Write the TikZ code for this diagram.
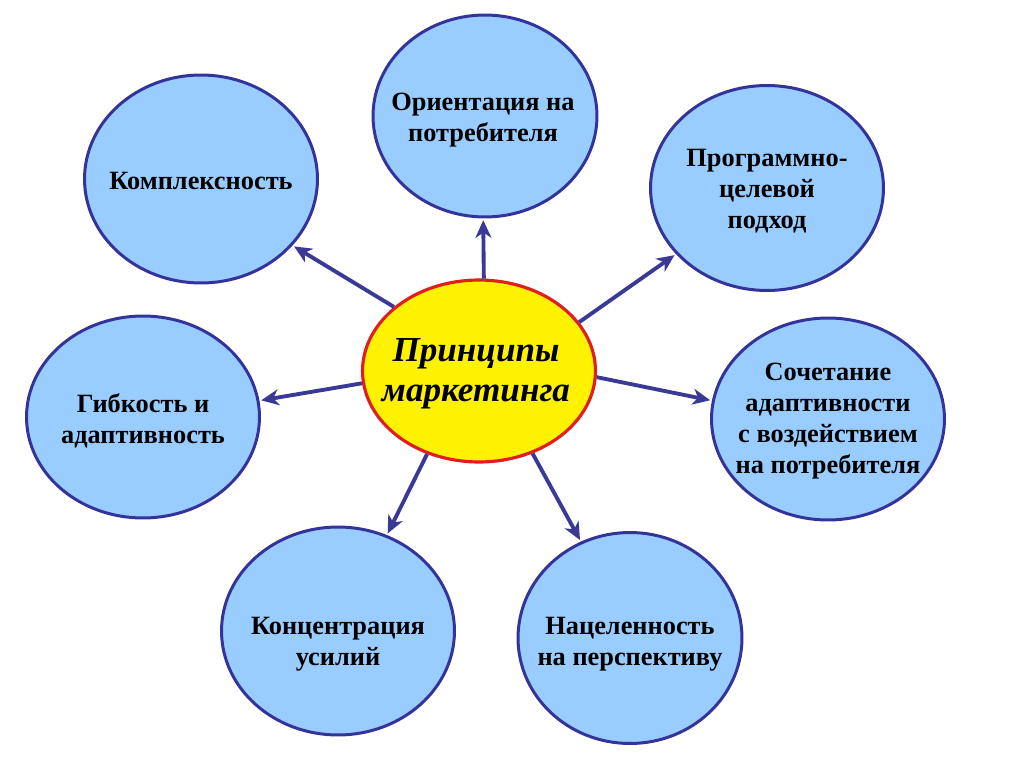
\documentclass[tikz,border=0pt]{standalone}
\usepackage{fontspec}
\setmainfont{Liberation Serif}
\usetikzlibrary{arrows.meta,shapes.geometric}
\definecolor{bfill}{RGB}{153,204,255}
\definecolor{bdraw}{RGB}{51,51,153}
\definecolor{arr}{RGB}{58,58,150}
\definecolor{hubred}{RGB}{225,30,30}
\begin{document}
\begin{tikzpicture}[x=0.02cm,y=-0.02cm,
  bub/.style={ellipse,draw=bdraw,fill=bfill,line width=1.7pt,inner sep=0pt},
  txt/.style={align=center,inner sep=0pt,font=\fontsize{15}{17.5}\selectfont\bfseries},
  hub/.style={ellipse,draw=hubred,fill=yellow,line width=1.8pt,inner sep=0pt,
    minimum width=4.66cm,minimum height=3.64cm},
  hubtxt/.style={align=center,inner sep=0pt,font=\fontsize{20}{23}\selectfont\bfseries\itshape},
  con/.style={draw=arr,line width=2.2pt,-{Stealth[length=10pt,width=9pt,inset=3pt]},shorten >=1pt}]
\useasboundingbox (0,0) rectangle (1024,767);
\fill[white] (0,0) rectangle (1024,767);

\node[bub,minimum width=4.66cm,minimum height=4.16cm] (k) at (201,179) {};
\node[txt] (kt) at (201,181) {Комплексность};

\node[bub,minimum width=4.48cm,minimum height=4.04cm] (o) at (485,116) {};
\node[txt] (ot) at (483,120) {Ориентация на\\потребителя};

\node[bub,minimum width=4.66cm,minimum height=4.10cm] (p) at (767,188) {};
\node[txt] (pt) at (767,191) {Программно-\\целевой\\подход};

\node[bub,minimum width=4.66cm,minimum height=4.04cm] (s) at (828,419) {};
\node[txt] (st) at (828,421) {Сочетание\\адаптивности\\с воздействием\\на потребителя};

\node[bub,minimum width=4.48cm,minimum height=4.22cm] (n) at (630,638) {};
\node[txt] (nt) at (630,644) {Нацеленность\\на перспективу};

\node[bub,minimum width=4.66cm,minimum height=4.16cm] (kc) at (338,631) {};
\node[txt] (kct) at (338,644) {Концентрация\\усилий};

\node[bub,minimum width=4.66cm,minimum height=4.04cm] (g) at (143,417) {};
\node[txt] (gt) at (143,421) {Гибкость и\\адаптивность};

\node[hub] (c) at (479,371) {};
\node[hubtxt] (ct) at (476,374) {Принципы\\маркетинга};

\draw[con] (c.143.5) -- (k.-36);
\draw[con] (c.87) -- (o.-91);
\draw[con] (c.26.3) -- (p.216);
\draw[con] (c.-3.4) -- (s.171);
\draw[con] (c.-57) -- (n.117);
\draw[con] (c.-122) -- (kc.63.7);
\draw[con] (c.186) -- (g.8);
\end{tikzpicture}
\end{document}
